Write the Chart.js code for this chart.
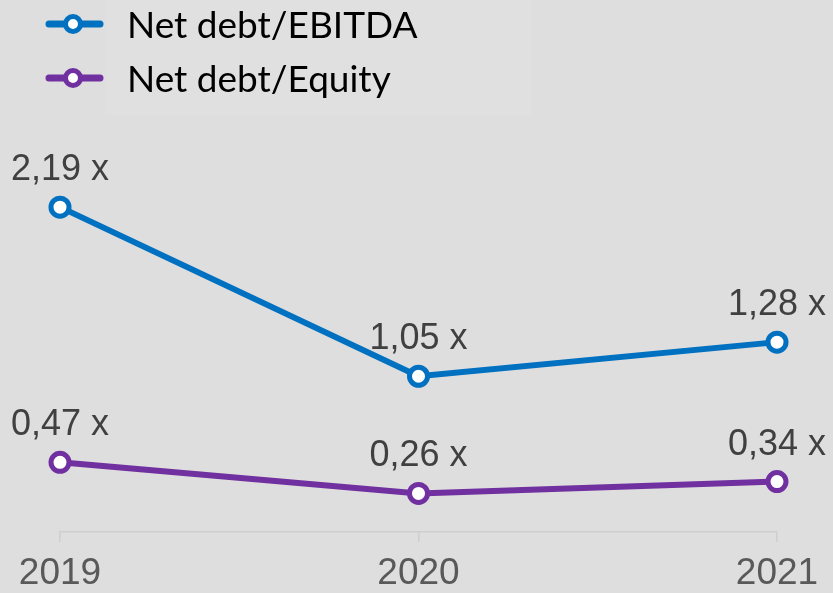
<!DOCTYPE html>
<html>
<head>
<meta charset="utf-8">
<script src="https://cdn.jsdelivr.net/npm/chart.js@4"></script>
<style>
html,body{margin:0;padding:0;background:#dedede;}
#c{display:block;}
</style>
</head>
<body>
<canvas id="c" width="833" height="593"></canvas>
<script>
const categories = ["2019", "2020", "2021"];
const seriesNames = ["Net debt/EBITDA", "Net debt/Equity"];
const netDebtEbitda = [2.19, 1.05, 1.28];
const netDebtEquity = [0.47, 0.26, 0.34];
const seriesColors = ["#0070c0", "#7030a0"];

function fmt(v){ return v.toFixed(2).replace('.', ',') + ' x'; }

const overlay = {
  id: 'overlay',
  beforeDraw(chart){
    const ctx = chart.ctx;
    ctx.save();
    ctx.fillStyle = '#dedede';
    ctx.fillRect(0,0,chart.width,chart.height);
    ctx.fillStyle = '#e0e0e0';
    ctx.fillRect(105,0,426,115);
    ctx.restore();
  },
  afterDatasetsDraw(chart){
    const ctx = chart.ctx;
    ctx.save();
    ctx.font = '36px "Liberation Sans", Arial, sans-serif';
    ctx.fillStyle = '#404040';
    ctx.textAlign = 'center';
    ctx.textBaseline = 'alphabetic';
    chart.data.datasets.forEach((ds, i) => {
      const meta = chart.getDatasetMeta(i);
      meta.data.forEach((pt, j) => {
        ctx.fillText(fmt(ds.data[j]), pt.x, pt.y - 27);
      });
    });
    // legend
    const rows = [24, 78];
    chart.data.datasets.forEach((ds, i) => {
      const y = rows[i];
      ctx.strokeStyle = ds.borderColor;
      ctx.lineWidth = 7;
      ctx.lineCap = 'round';
      ctx.beginPath(); ctx.moveTo(49, y); ctx.lineTo(100, y); ctx.stroke();
      ctx.beginPath(); ctx.arc(73, y, 7.5, 0, Math.PI*2);
      ctx.fillStyle = '#ffffff'; ctx.fill();
      ctx.lineWidth = 5; ctx.stroke();
      ctx.fillStyle = '#000000';
      ctx.textAlign = 'left';
      ctx.font = '37px Lato, "Open Sans", sans-serif';
      ctx.fillText(ds.label, 127, y + 14);
    });
    ctx.restore();
  }
};

new Chart(document.getElementById('c'), {
  type: 'line',
  data: {
    labels: categories,
    datasets: [
      { label: seriesNames[0], data: netDebtEbitda, borderColor: seriesColors[0] },
      { label: seriesNames[1], data: netDebtEquity, borderColor: seriesColors[1] }
    ].map(d => Object.assign(d, {
      borderWidth: 6, tension: 0, pointRadius: 9, pointHoverRadius: 9,
      pointBorderWidth: 5, pointBackgroundColor: '#ffffff', pointBorderColor: d.borderColor,
      clip: false
    }))
  },
  options: {
    responsive: false,
    animation: false,
    events: [],
    layout: { padding: { left: 60, right: 56, top: 87, bottom: 0 } },
    plugins: { legend: { display: false }, tooltip: { enabled: false } },
    scales: {
      x: {
        offset: false,
        afterFit: (scale) => { scale.height = 61; },
        grid: { display: true, drawOnChartArea: false, drawTicks: true, tickLength: 10, color: '#cecece', lineWidth: 1.5 },
        border: { display: true, color: '#cecece', width: 1.5 },
        ticks: { color: '#595959', font: { family: '"Liberation Sans", Arial, sans-serif', size: 37, lineHeight: 1.2 }, padding: 10, maxRotation: 0, autoSkip: false }
      },
      y: { display: false, min: 0, max: 3 }
    }
  },
  plugins: [overlay]
});
</script>
</body>
</html>
